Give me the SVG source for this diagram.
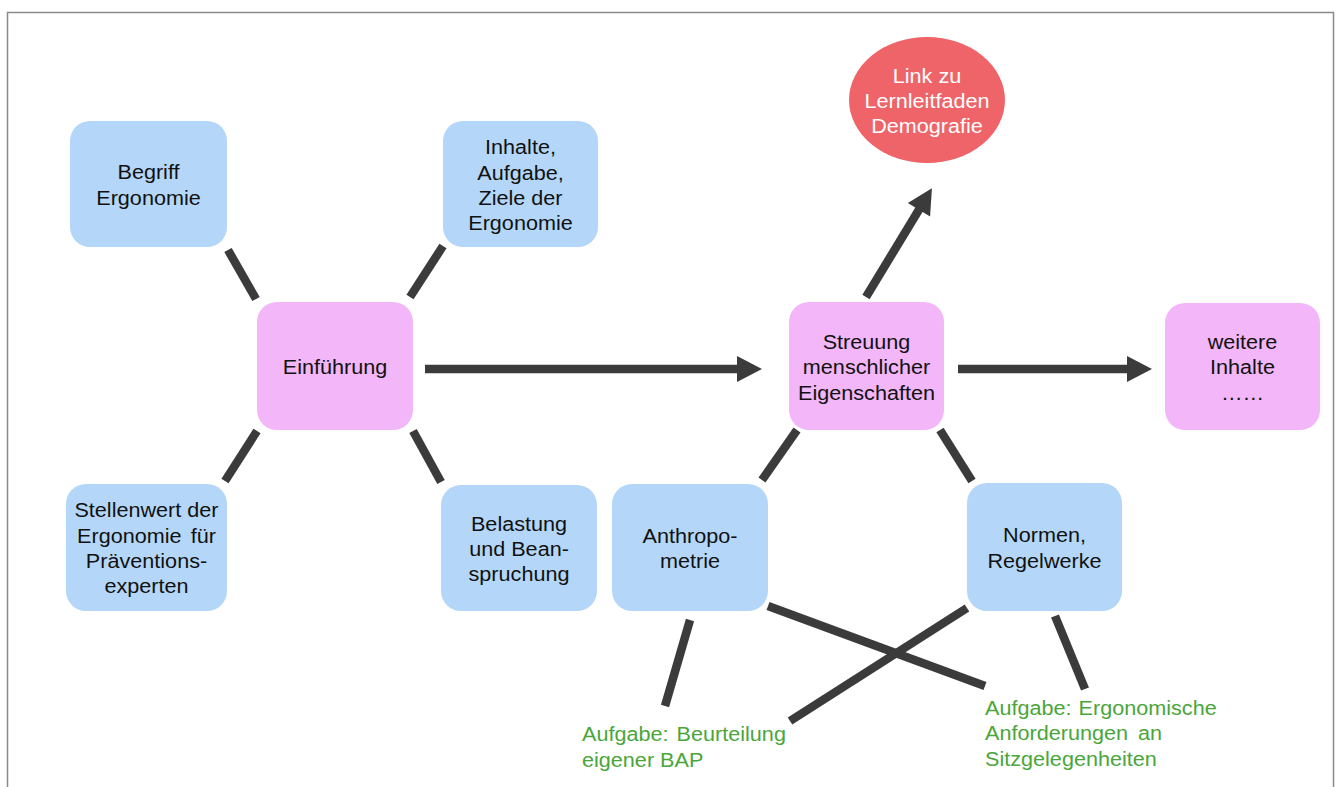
<svg xmlns="http://www.w3.org/2000/svg" width="1340" height="787" viewBox="0 0 1340 787">
<defs>
<marker id="ah" markerUnits="userSpaceOnUse" markerWidth="30" markerHeight="30" viewBox="0 -15 27 30" refX="2" refY="0" orient="auto">
<path d="M0,-13 L25,0 L0,13 z" fill="#3b3b3b"/>
</marker>
</defs>
<style>
.blue{fill:#b4d7f9}
.pink{fill:#f2b6f9}
.red{fill:#ef6468}
.t{font-family:"Liberation Sans",Arial,sans-serif;font-size:21px;fill:#111;text-anchor:middle}
.w{fill:#ffffff}
.g{font-family:"Liberation Sans",Arial,sans-serif;font-size:21px;fill:#4aa63a;text-anchor:start}
.c{stroke:#3b3b3b;stroke-width:8.5;fill:none;stroke-linecap:butt}
</style>
<rect x="0" y="0" width="1340" height="787" fill="#ffffff"/>
<rect x="7.5" y="12.5" width="1326" height="800" fill="none" stroke="#8a8a8a" stroke-width="1.5"/>

<g id="connectors">
<line class="c" x1="228" y1="250" x2="256" y2="299"/>
<line class="c" x1="443" y1="246" x2="410" y2="297"/>
<line class="c" x1="257" y1="431" x2="225" y2="481"/>
<line class="c" x1="413" y1="431" x2="441" y2="482"/>
<line class="c" x1="425" y1="369" x2="739" y2="369" marker-end="url(#ah)"/>
<line class="c" x1="958" y1="369" x2="1129" y2="369" marker-end="url(#ah)"/>
<line class="c" x1="866" y1="297" x2="920" y2="208" marker-end="url(#ah)"/>
<line class="c" x1="797" y1="430" x2="762" y2="480"/>
<line class="c" x1="940" y1="430" x2="972" y2="481"/>
<line class="c" x1="690" y1="620" x2="665" y2="706"/>
<line class="c" x1="768" y1="606" x2="985" y2="686"/>
<line class="c" x1="967" y1="608" x2="790" y2="721"/>
<line class="c" x1="1055" y1="616" x2="1085" y2="689"/>
</g>

<g id="begriff">
<rect class="blue" x="70" y="121" width="157" height="126" rx="20"/>
<text class="t" transform="translate(148.5 0) scale(1.03 1)" x="0" y="179.3">Begriff</text>
<text class="t" transform="translate(148.5 0) scale(1.03 1)" x="0" y="204.6">Ergonomie</text>
</g>

<g id="inhalte">
<rect class="blue" x="443" y="121" width="155" height="126" rx="20"/>
<text class="t" transform="translate(520.5 0) scale(1.03 1)" x="0" y="154.4">Inhalte,</text>
<text class="t" transform="translate(520.5 0) scale(1.03 1)" x="0" y="179.7">Aufgabe,</text>
<text class="t" transform="translate(520.5 0) scale(1.03 1)" x="0" y="205">Ziele der</text>
<text class="t" transform="translate(520.5 0) scale(1.03 1)" x="0" y="230.3">Ergonomie</text>
</g>

<g id="einfuehrung">
<rect class="pink" x="257" y="302" width="156" height="128" rx="20"/>
<text class="t" transform="translate(335 0) scale(1.03 1)" x="0" y="374">Einführung</text>
</g>

<g id="stellenwert">
<rect class="blue" x="66" y="484" width="161" height="127" rx="20"/>
<text class="t" transform="translate(146.5 0) scale(1.03 1)" x="0" y="517.5">Stellenwert der</text>
<text class="t" transform="translate(146.5 0) scale(1.03 1)" x="0" y="542.8" word-spacing="3">Ergonomie für</text>
<text class="t" transform="translate(146.5 0) scale(1.03 1)" x="0" y="568.1">Präventions-</text>
<text class="t" transform="translate(146.5 0) scale(1.03 1)" x="0" y="593.4">experten</text>
</g>

<g id="belastung">
<rect class="blue" x="441" y="485" width="156" height="126" rx="20"/>
<text class="t" transform="translate(519 0) scale(1.03 1)" x="0" y="530.7">Belastung</text>
<text class="t" transform="translate(519 0) scale(1.03 1)" x="0" y="556">und Bean-</text>
<text class="t" transform="translate(519 0) scale(1.03 1)" x="0" y="581.3">spruchung</text>
</g>

<g id="streuung">
<rect class="pink" x="789" y="302" width="155" height="128" rx="20"/>
<text class="t" transform="translate(866.5 0) scale(1.03 1)" x="0" y="349.2">Streuung</text>
<text class="t" transform="translate(866.5 0) scale(1.03 1)" x="0" y="374.5">menschlicher</text>
<text class="t" transform="translate(866.5 0) scale(1.03 1)" x="0" y="399.8">Eigenschaften</text>
</g>

<g id="weitere">
<rect class="pink" x="1165" y="303" width="155" height="127" rx="20"/>
<text class="t" transform="translate(1242.5 0) scale(1.03 1)" x="0" y="349.2">weitere</text>
<text class="t" transform="translate(1242.5 0) scale(1.03 1)" x="0" y="374.5">Inhalte</text>
<text class="t" transform="translate(1242.5 0) scale(1.03 1)" x="0" y="399.8">……</text>
</g>

<g id="demografie">
<ellipse class="red" cx="927" cy="100" rx="78" ry="63"/>
<text class="t w" transform="translate(927 0) scale(1.03 1)" x="0" y="82.7">Link zu</text>
<text class="t w" transform="translate(927 0) scale(1.03 1)" x="0" y="108">Lernleitfaden</text>
<text class="t w" transform="translate(927 0) scale(1.03 1)" x="0" y="133.3">Demografie</text>
</g>

<g id="anthropometrie">
<rect class="blue" x="612" y="484" width="156" height="127" rx="20"/>
<text class="t" transform="translate(690 0) scale(1.03 1)" x="0" y="542.8">Anthropo-</text>
<text class="t" transform="translate(690 0) scale(1.03 1)" x="0" y="568.1">metrie</text>
</g>

<g id="normen">
<rect class="blue" x="967" y="483" width="155" height="128" rx="20"/>
<text class="t" transform="translate(1044.5 0) scale(1.03 1)" x="0" y="542.3">Normen,</text>
<text class="t" transform="translate(1044.5 0) scale(1.03 1)" x="0" y="567.6">Regelwerke</text>
</g>

<g id="aufgabe-bap">
<text class="g" transform="translate(582 0) scale(1.03 1)" x="0" y="741" word-spacing="2">Aufgabe: Beurteilung</text>
<text class="g" transform="translate(582 0) scale(1.03 1)" x="0" y="767">eigener BAP</text>
</g>

<g id="aufgabe-sitz">
<text class="g" transform="translate(985 0) scale(1.03 1)" x="0" y="715" word-spacing="1">Aufgabe: Ergonomische</text>
<text class="g" transform="translate(985 0) scale(1.03 1)" x="0" y="740.5" word-spacing="4">Anforderungen an</text>
<text class="g" transform="translate(985 0) scale(1.03 1)" x="0" y="766">Sitzgelegenheiten</text>
</g>
</svg>
